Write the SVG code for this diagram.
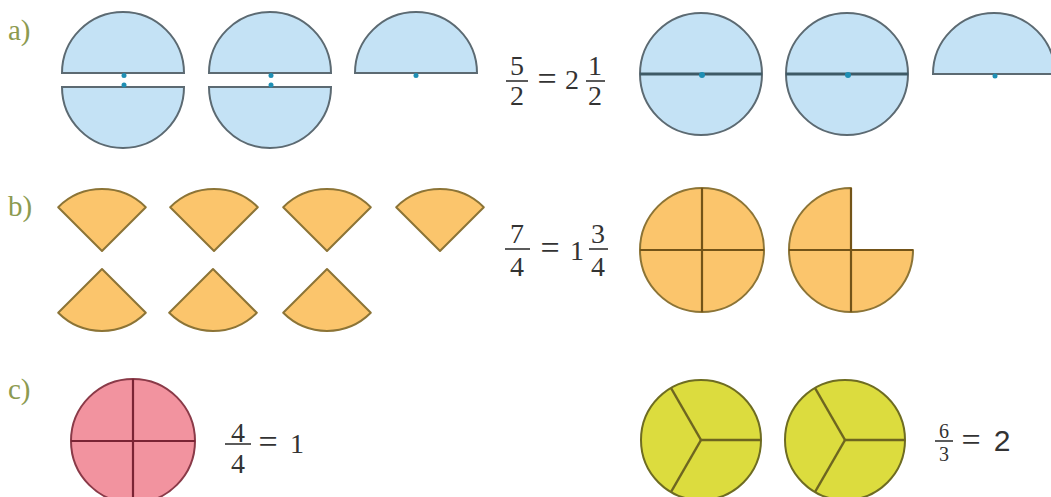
<svg xmlns="http://www.w3.org/2000/svg" width="1051" height="497" viewBox="0 0 1051 497">
<style>
.blue{fill:#c4e2f5;stroke:#5c6a72;stroke-width:2}
.bdia{stroke:#3e5a66;stroke-width:3}
.dot{fill:#1f8fb4}
.org{fill:#fbc56c;stroke:#8c7436;stroke-width:2;stroke-linejoin:round}
.odiv{stroke:#735418;stroke-width:2.2}
.pink{fill:#f2939f;stroke:#8a3a48;stroke-width:2}
.pdiv{stroke:#7a2434;stroke-width:2.2}
.yel{fill:#dcdc3e;stroke:#6e6c22;stroke-width:2}
.ydiv{stroke:#6e6620;stroke-width:2.5}
.lbl{font-family:"Liberation Serif","DejaVu Serif",serif;font-size:29px;fill:#8c9a50}
.num{font-family:"Liberation Serif","DejaVu Serif",serif;font-size:28px;fill:#333;text-anchor:middle}
.sm{font-size:20px}
.eq{font-family:"Liberation Serif","DejaVu Serif",serif;font-size:34px;fill:#333;text-anchor:middle}
.sans{font-family:"Liberation Sans",sans-serif;font-size:30px;fill:#333;text-anchor:middle}
.bar{stroke:#333;stroke-width:1.6}
</style>
<rect width="1051" height="497" fill="#ffffff"/>

<g id="label-a"><text class="lbl" x="8" y="40">a)</text></g>
<g id="label-b"><text class="lbl" x="8" y="216">b)</text></g>
<g id="label-c"><text class="lbl" x="8" y="399">c)</text></g>

<!-- Row a left -->
<g id="a-split1">
<path class="blue" d="M62 73 A61 61 0 0 1 184 73 Z"/>
<path class="blue" d="M62 87 A61 61 0 0 0 184 87 Z"/>
<circle class="dot" cx="124" cy="75.5" r="2.5"/><circle class="dot" cx="124" cy="85" r="2.5"/>
</g>
<g id="a-split2">
<path class="blue" d="M209 73 A61 61 0 0 1 331 73 Z"/>
<path class="blue" d="M209 87 A61 61 0 0 0 331 87 Z"/>
<circle class="dot" cx="271" cy="75.5" r="2.5"/><circle class="dot" cx="271" cy="85" r="2.5"/>
</g>
<g id="a-half1">
<path class="blue" d="M355 73 A61 61 0 0 1 477 73 Z"/>
<circle class="dot" cx="416" cy="75.5" r="2.5"/>
</g>

<g id="a-eq">
<text class="num" x="517" y="75">5</text>
<line class="bar" x1="506" y1="81" x2="528" y2="81"/>
<text class="num" x="517" y="105">2</text>
<text class="eq" x="547" y="90">=</text>
<text class="num" x="572" y="89">2</text>
<text class="num" x="595" y="75">1</text>
<line class="bar" x1="586" y1="81" x2="605" y2="81"/>
<text class="num" x="595" y="105">2</text>
</g>

<!-- Row a right -->
<g id="a-whole1">
<circle class="blue" cx="701" cy="74" r="61"/>
<line class="bdia" x1="640" y1="74" x2="762" y2="74"/>
<circle class="dot" cx="702" cy="75" r="3"/>
</g>
<g id="a-whole2">
<circle class="blue" cx="847" cy="74" r="61"/>
<line class="bdia" x1="786" y1="74" x2="908" y2="74"/>
<circle class="dot" cx="848" cy="75" r="3"/>
</g>
<g id="a-half2">
<path class="blue" d="M933 74 A61 61 0 0 1 1055 74 Z"/>
<circle class="dot" cx="995" cy="76" r="2.5"/>
</g>

<!-- Row b sectors -->
<g id="b-s1"><path class="org" d="M102 251 L58.2 207.2 A62 62 0 0 1 145.8 207.2 Z"/></g>
<g id="b-s2"><path class="org" d="M214 251 L170.2 207.2 A62 62 0 0 1 257.8 207.2 Z"/></g>
<g id="b-s3"><path class="org" d="M327 251 L283.2 207.2 A62 62 0 0 1 370.8 207.2 Z"/></g>
<g id="b-s4"><path class="org" d="M440 251 L396.2 207.2 A62 62 0 0 1 483.8 207.2 Z"/></g>
<g id="b-s5"><path class="org" d="M102 269 L58.2 312.8 A62 62 0 0 0 145.8 312.8 Z"/></g>
<g id="b-s6"><path class="org" d="M213 269 L169.2 312.8 A62 62 0 0 0 256.8 312.8 Z"/></g>
<g id="b-s7"><path class="org" d="M327 269 L283.2 312.8 A62 62 0 0 0 370.8 312.8 Z"/></g>

<g id="b-eq">
<text class="num" x="517" y="243">7</text>
<line class="bar" x1="505" y1="249" x2="530" y2="249"/>
<text class="num" x="517" y="276">4</text>
<text class="eq" x="550" y="259">=</text>
<text class="num" x="577" y="260">1</text>
<text class="num" x="598" y="243">3</text>
<line class="bar" x1="589" y1="249" x2="608" y2="249"/>
<text class="num" x="598" y="276">4</text>
</g>

<g id="b-whole">
<circle class="org" cx="702" cy="250" r="62"/>
<line class="odiv" x1="640" y1="250" x2="764" y2="250"/>
<line class="odiv" x1="702" y1="188" x2="702" y2="312"/>
</g>
<g id="b-three-quarters">
<path class="org" d="M851 250 L851 188 A62 62 0 1 0 913 250 Z"/>
<line class="odiv" x1="789" y1="250" x2="913" y2="250"/>
<line class="odiv" x1="851" y1="188" x2="851" y2="312"/>
</g>

<!-- Row c -->
<g id="c-pink">
<circle class="pink" cx="133" cy="441" r="62"/>
<line class="pdiv" x1="71" y1="441" x2="195" y2="441"/>
<line class="pdiv" x1="133" y1="379" x2="133" y2="503"/>
</g>
<g id="c-eq1">
<text class="num" x="238" y="442">4</text>
<line class="bar" x1="225" y1="444" x2="251" y2="444"/>
<text class="num" x="238" y="473">4</text>
<text class="eq" x="268" y="453">=</text>
<text class="num" x="297" y="453">1</text>
</g>

<g id="c-yellow1">
<circle class="yel" cx="701" cy="440" r="60"/>
<line class="ydiv" x1="701" y1="440" x2="761" y2="440"/>
<line class="ydiv" x1="701" y1="440" x2="671" y2="388"/>
<line class="ydiv" x1="701" y1="440" x2="671" y2="492"/>
</g>
<g id="c-yellow2">
<circle class="yel" cx="845" cy="440" r="60"/>
<line class="ydiv" x1="845" y1="440" x2="905" y2="440"/>
<line class="ydiv" x1="845" y1="440" x2="815" y2="388"/>
<line class="ydiv" x1="845" y1="440" x2="815" y2="492"/>
</g>
<g id="c-eq2">
<text class="num sm" x="944" y="438">6</text>
<line class="bar" x1="935" y1="441" x2="953" y2="441"/>
<text class="num sm" x="944" y="461">3</text>
<text class="eq" x="971" y="451">=</text>
<text class="sans" x="1002" y="451">2</text>
</g>
</svg>
